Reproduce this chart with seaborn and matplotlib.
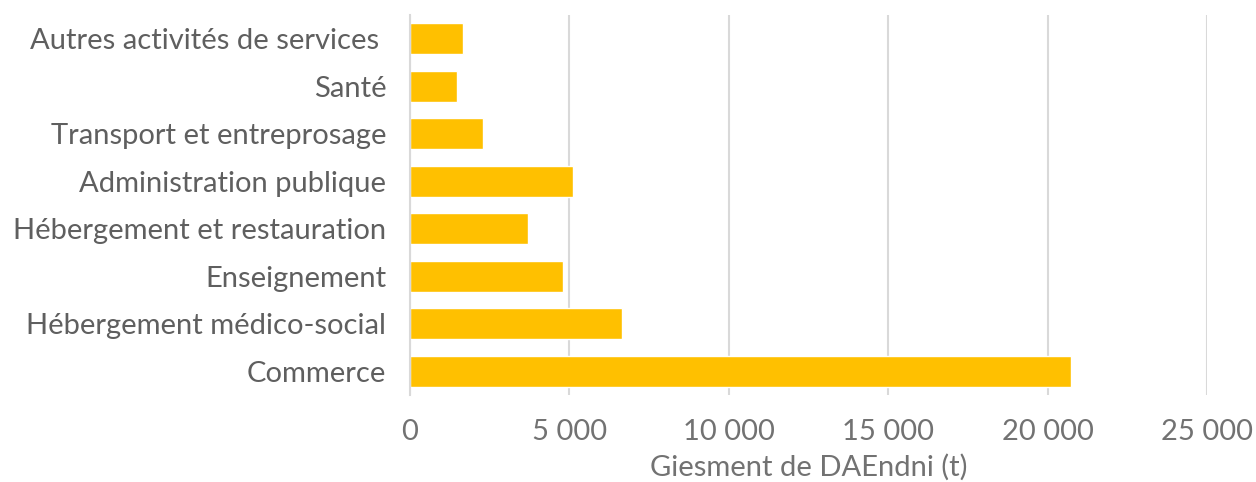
import seaborn as sns
import pandas as pd
import matplotlib.pyplot as plt
from matplotlib.ticker import FuncFormatter

categories = ["Autres activités de services ", "Santé", "Transport et entreprosage",
              "Administration publique", "Hébergement et restauration", "Enseignement",
              "Hébergement médico-social", "Commerce"]
values = [1650, 1460, 2290, 5100, 3710, 4810, 6650, 20740]
xticks = [0, 5000, 10000, 15000, 20000, 25000]

df = pd.DataFrame({"secteur": categories, "giesment": values})

sns.set_style("white")
plt.rcParams['font.family'] = ['Lato', 'DejaVu Sans']

fig = plt.figure(figsize=(12.56, 4.82), dpi=100)
ax = fig.add_axes([0.3264, 0.1805, 0.6346, 0.7885])
sns.barplot(data=df, x="giesment", y="secteur", color="#FFC000", saturation=1,
            width=0.66, ax=ax)

ax.set_xlim(0, 25000)
ax.set_xticks(xticks)
ax.xaxis.set_major_formatter(FuncFormatter(lambda v, p: f"{int(v):,}".replace(",", " ")))
ax.grid(axis="x", color="#d9d9d9", linewidth=1.5)
ax.set_axisbelow(True)
for s in ["top", "right", "bottom"]:
    ax.spines[s].set_visible(False)
ax.spines["left"].set_color("#d9d9d9")
ax.spines["left"].set_linewidth(1.5)
ax.tick_params(axis="y", length=0, labelsize=21, labelcolor="#5f5f5f", pad=17)
ax.tick_params(axis="x", length=0, labelsize=21, labelcolor="#727272", pad=17)
ax.set_ylabel("")
ax.set_xlabel("Giesment de DAEndni (t)", fontsize=21, color="#727272", labelpad=7)

fig.savefig("out.png", dpi=100)
